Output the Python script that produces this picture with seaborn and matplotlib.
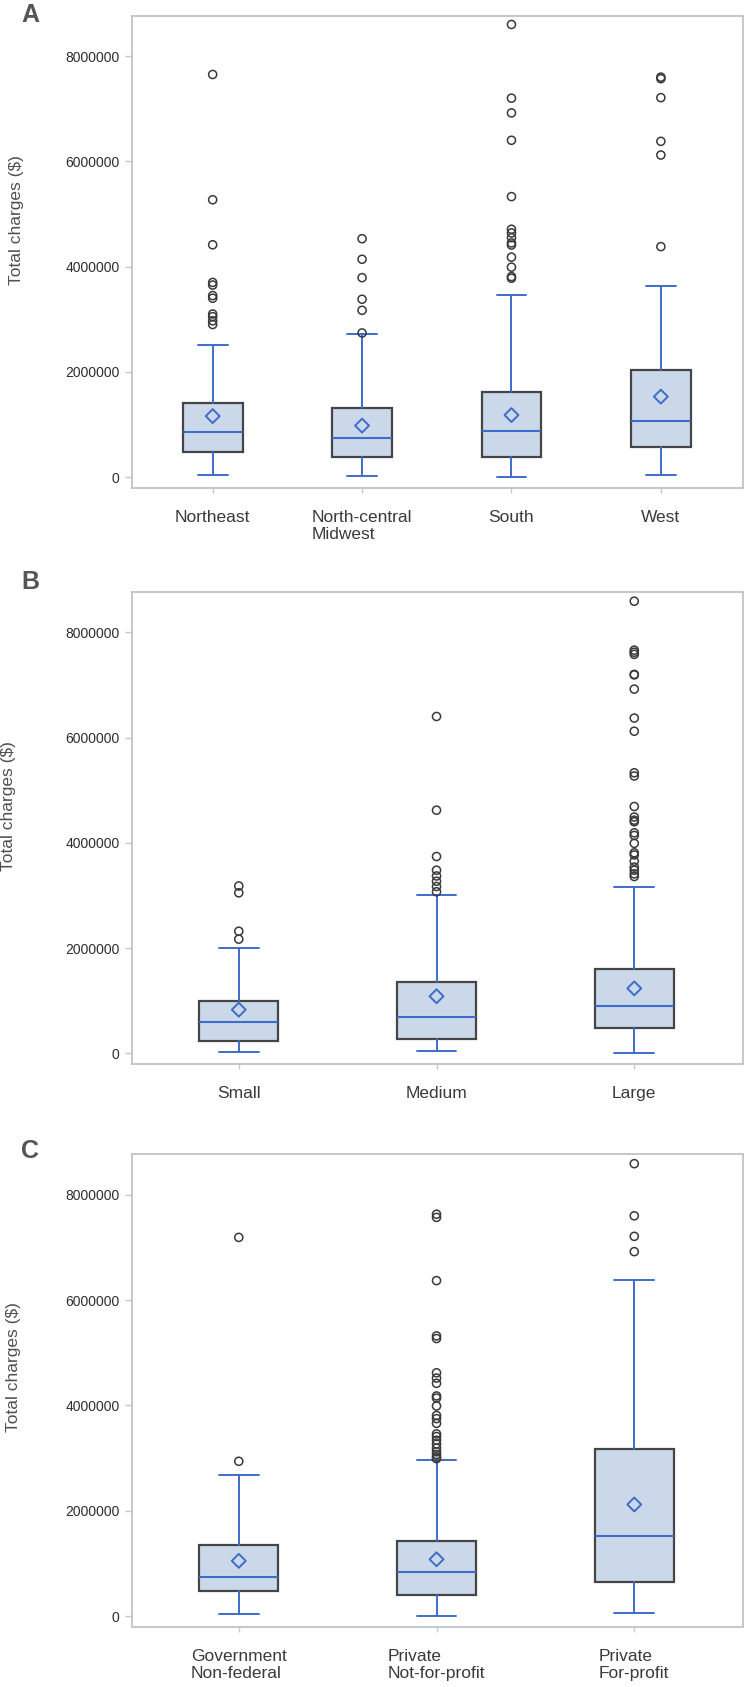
import numpy as np
import pandas as pd
import matplotlib
matplotlib.use("Agg")
import matplotlib.pyplot as plt
import seaborn as sns

# Values, in millions of dollars

# Panel A - hospital region
region_labels = ["Northeast", "North-central\nMidwest", "South", "West"]
region_q1 = [0.47, 0.38, 0.38, 0.565]
region_med = [0.86, 0.75, 0.88, 1.075]
region_q3 = [1.41, 1.31, 1.625, 2.04]
region_lo = [0.04, 0.015, 0.0, 0.05]
region_hi = [2.515, 2.72, 3.47, 3.63]
region_mean = [1.16, 0.98, 1.18, 1.53]
region_out = [
    [7.65, 5.27, 4.415, 3.70, 3.65, 3.45, 3.40, 3.10, 3.05, 2.97, 2.90],
    [4.53, 4.14, 3.79, 3.38, 3.17, 2.74],
    [8.60, 7.20, 6.92, 6.40, 5.33, 4.71, 4.64, 4.55, 4.45, 4.41, 4.18, 3.99, 3.81, 3.78],
    [7.60, 7.57, 7.21, 6.38, 6.12, 4.38],
]

# Panel B - hospital bed size
size_labels = ["Small", "Medium", "Large"]
size_q1 = [0.24, 0.28, 0.475]
size_med = [0.59, 0.69, 0.90]
size_q3 = [1.0, 1.365, 1.60]
size_lo = [0.02, 0.04, 0.0]
size_hi = [2.01, 3.01, 3.17]
size_mean = [0.83, 1.085, 1.235]
size_out = [
    [3.18, 3.05, 2.32, 2.17],
    [6.40, 4.62, 3.74, 3.48, 3.37, 3.27, 3.17, 3.07],
    [8.59, 7.66, 7.62, 7.58, 7.20, 7.19, 6.92, 6.37, 6.12, 5.33, 5.27, 4.69, 4.49,
     4.43, 4.40, 4.19, 4.14, 3.99, 3.81, 3.77, 3.65, 3.54, 3.48, 3.41, 3.36],
]

# Panel C - hospital ownership
owner_labels = ["Government\nNon-federal", "Private\nNot-for-profit", "Private\nFor-profit"]
owner_q1 = [0.47, 0.41, 0.655]
owner_med = [0.74, 0.84, 1.525]
owner_q3 = [1.36, 1.43, 3.17]
owner_lo = [0.05, 0.0, 0.06]
owner_hi = [2.68, 2.97, 6.39]
owner_mean = [1.05, 1.08, 2.12]
owner_out = [
    [7.19, 2.94],
    [7.63, 7.57, 6.37, 5.32, 5.27, 4.62, 4.52, 4.42, 4.18, 4.14, 3.99, 3.81, 3.75,
     3.66, 3.46, 3.41, 3.34, 3.27, 3.19, 3.12, 3.07, 3.02, 2.99],
    [8.59, 7.60, 7.21, 6.92],
]

ytick_values = [0, 2000000, 4000000, 6000000, 8000000]
ytick_labels = ["0", "2000000", "4000000", "6000000", "8000000"]

BLUE = "#3D6CC9"
FILL = "#CBD8EA"
EDGE = "#454545"
FRAME = "#BFC3C8"

sns.set_style("white")
plt.rcParams["font.family"] = ["Liberation Sans", "DejaVu Sans"]

fig = plt.figure(figsize=(7.5, 16.87), dpi=100)


def draw_panel(rect, letter, letter_y, labels, q1, med, q3, lo, hi, mean, outs, ylab_x, ylab_y):
    ax = fig.add_axes(rect)
    n = len(labels)
    stats = []
    for i in range(n):
        stats.append(dict(q1=q1[i] * 1e6, med=med[i] * 1e6, q3=q3[i] * 1e6,
                          whislo=lo[i] * 1e6, whishi=hi[i] * 1e6, fliers=[]))
    ax.bxp(stats, positions=range(n), widths=0.4, capwidths=0.2,
           patch_artist=True, showfliers=False, manage_ticks=False,
           boxprops=dict(facecolor=FILL, edgecolor=EDGE, linewidth=1.6),
           medianprops=dict(color=BLUE, linewidth=1.5),
           whiskerprops=dict(color=BLUE, linewidth=1.4),
           capprops=dict(color=BLUE, linewidth=1.4))

    out_df = pd.DataFrame({
        "pos": [i for i in range(n) for _ in outs[i]],
        "value": [v * 1e6 for i in range(n) for v in outs[i]],
    })
    sns.scatterplot(data=out_df, x="pos", y="value", ax=ax, marker="o", s=34,
                    facecolor="none", edgecolor="#3a3a3a", linewidth=1.1, zorder=4)
    mean_df = pd.DataFrame({"pos": list(range(n)), "value": [m * 1e6 for m in mean]})
    sns.scatterplot(data=mean_df, x="pos", y="value", ax=ax, marker="D", s=50,
                    facecolor="none", edgecolor=BLUE, linewidth=1.4, zorder=5)

    ax.set_xlim(-0.54, n - 1 + 0.55)
    ax.set_ylim(-0.2e6, 8.77e6)
    ax.set_xticks(range(n))
    ax.set_xticklabels(labels, multialignment="left", fontsize=12.5, color="#3a3a3a")
    ax.set_yticks(ytick_values)
    ax.set_yticklabels(ytick_labels, fontsize=10, color="#2e2e2e")
    ax.tick_params(axis="x", length=3.5, width=1, color="#C8C8C8", pad=12.5, bottom=True)
    ax.tick_params(axis="y", length=5, width=1, color="#C8C8C8", pad=4, left=True)
    ax.set_xlabel("")
    ax.set_ylabel("Total charges ($)", fontsize=12.5, color="#505050")
    ax.yaxis.set_label_coords(ylab_x, ylab_y)
    for sp in ax.spines.values():
        sp.set_color(FRAME)
        sp.set_linewidth(1.3)
    fig.text(21 / 750, 1 - letter_y / 1687, letter, fontsize=18, fontweight="bold",
             color="#555555", ha="left", va="baseline")
    return ax


draw_panel([0.176, 0.7109, 0.8147, 0.2799], "A", 22,
           region_labels, region_q1, region_med, region_q3, region_lo, region_hi,
           region_mean, region_out, -0.177, 0.567)
draw_panel([0.176, 0.36935, 0.8147, 0.2799], "B", 589,
           size_labels, size_q1, size_med, size_q3, size_lo, size_hi,
           size_mean, size_out, -0.190, 0.545)
draw_panel([0.176, 0.03574, 0.8147, 0.2801], "C", 1158,
           owner_labels, owner_q1, owner_med, owner_q3, owner_lo, owner_hi,
           owner_mean, owner_out, -0.182, 0.549)

fig.savefig("out.png", dpi=100)
